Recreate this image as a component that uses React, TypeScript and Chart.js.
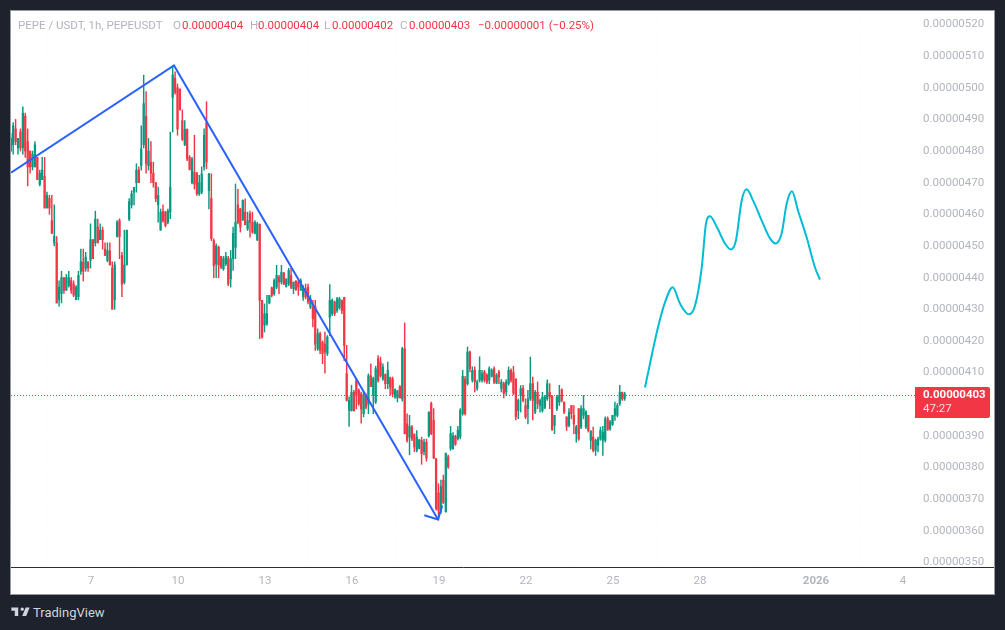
import React, { useEffect, useRef } from "react";
import { Chart, registerables } from "chart.js";

Chart.register(...registerables);

// Prices are expressed in units of 0.00000001. Each candle: [open, high, low, close]
const candlesDec4to8 = [
  [485,485,478,479],[480,485.5,480,484],[482,489,479,488],[487,490,482,483],[481,484,479,484],
  [486,487,480,481],[481,494,479,492],[491,492,478,480],[483,487,469,475],[480,480,473,475],
  [475,480,474,479],[475,483,475,482],[478,478,471,471],[469.5,474,469,473],[471,478,471,474],
  [472,478,462,462],[462,467,462,466],[465,466,460,462],[458,466,454,454],[451,463,450,453],
  [451,453,432,432],[433,439,431,437],[435,442,432,440],[440,440,435,436],[436,441,436,440],
  [437.5,442,437,440],[439,440,435,436],[438,439,434,434.5],[433,437.5,433,437],[434,442,433,440.7],
  [442,449,441,445],[445,449,439,442],[443,448,442,446.5],[445,445,442,443],[445.5,457,443,452],
  [452,452,446,446],[451,461,450,458.5],[456,458.5,451,451],[452,457,452,455],[455,456,449,452],
  [449,451,447,447],[445.5,451,445,448.5],[448.5,451,444,444],[443,445,430,430],[433,445,430,444],
];
const candlesDec8to11 = [
  [453,458,452.8,457.5],[458,458.6,446,453],[447,448,434,438],[438.5,455,438,444],[444,455,444,455],
  [458.5,465,458,464],[463,467.5,462,466.5],[467,468.5,463,468.5],[470,476,467,474],[474,475,470,470],
  [475.4,488,474,480.7],[482,504,481,495],[491,498.8,473,476],[475.4,484,474,480],[476.5,483,470,473],
  [473,476.5,468.6,470],[470,470,464,465],[463,468.6,457.5,466],[455,461.7,455,460.7],[461,463,457.5,458],
  [460.7,461,456,456.5],[457.5,461.7,457,461],[460.7,486,458.6,468.6],[497,507,486,504],[503,505,498,498.6],
  [500,501.2,485,487],[499.6,499.6,493,493],[489.6,493,483.3,483.7],[482,489.6,481.7,486.8],[486.8,487,477,477.5],
  [478,478.6,474,474.2],[470,478,469.6,477.5],[473.3,485,468,469.6],[472.8,473.3,466,466.5],[466.5,472.3,466,470],
  [467,475,466.5,472.8],[475,487,474,485],[489,495.6,474.4,476.5],[467.5,473,461.7,472.8],[465,472.8,451.7,452.3],
  [451.7,452.3,440,443.8],[444.3,450.7,440,450],[449.6,450,440,444],
];
const candlesDec11to15 = [
  [446.7,446.7,442.8,443.3],[442.8,446.7,442.3,446],[444.4,448,443.8,446.7],[446,446.7,437.5,438],[439.6,448.6,437,446],
  [446,456,442.3,454],[449.6,469.6,446,457.5],[463,467.9,457,457.5],[461.8,461.8,454.4,456],[458.3,464.6,458,464.4],
  [460.7,464.9,456.7,456.7],[455.4,460.7,454.9,458],[460.2,461,452.8,457.5],[457.5,460.7,454,454.4],[454,458,453.8,457.5],
  [452,457.5,451.7,457],[456.8,457,420.7,432.8],[432.8,432.8,420.9,421.2],[425,431.7,422.8,428.6],[425.4,434.4,424.9,428.6],
  [432,434.4,431.7,434.4],[436.8,437,433.9,434.4],[434.9,439.6,434.4,439.1],[437,443.9,436.5,440.7],[440.2,440.7,434.9,438.6],
  [438.6,443.9,438,441.7],[441.4,441.7,437.8,438],[437.2,439.6,437,439.6],[438,443,437.5,442.3],[440.7,443,436.5,437],
  [436.5,438.6,434.9,438.6],[438.9,439.1,436,436.2],[438.6,439.1,434.4,437],[436,439.6,436,439.1],[433.9,437.5,432.8,436.5],
  [436.5,438,433.3,433.9],[437,438,431.7,432.3],[430.7,434.4,430.2,433.3],[430.7,432.8,424.4,427],[431,432.8,417,419],
];
const candlesDec15to18 = [
  [417.5,423.8,417,422.3],[422.3,422.8,416,417],[419.6,420,412.8,416],[419,422.8,409.8,416.5],[416,421.7,415.4,421.2],
  [427.5,437.8,421.7,432.8],[428.6,433.3,428,432.8],[432.3,432.6,428,428.6],[429.6,433.8,429,433.3],[430.5,433.8,430,433.3],
  [432.8,433,428.6,429.6],[433.8,433.8,413.8,418.6],[409.6,418.6,401,401.2],[398,402.3,393,401.2],[398,406,397.8,403.8],
  [403.8,404.4,397.8,398],[407.5,408,398.5,402.8],[404.4,404.9,399.6,400.2],[403.3,403.8,394,398.5],[397,403.8,396,402.8],
  [402.8,403.3,398.5,399],[400,409.6,397,409],[409,412.8,405.6,405.6],[402.8,408.6,397,408],[400.7,412,400.2,411.2],
  [414.4,415.4,407,407.5],[413.3,414.9,408.6,409],[408,412.8,407.5,411.7],[409.4,409.6,404.9,406.5],[406.5,413.3,404.9,410.7],
  [408.4,408.6,402.8,405.4],[408,408.6,402.3,403.3],[402.3,404.9,401.8,404.6],[402,404.4,400.7,404.2],[405.6,405.9,402,402],
  [401.7,418,401,417.5],[417.5,425.7,390.6,390.7],[393.8,397,388,388.6],[389.6,396.5,384,393],[392.8,393.3,388.5,389],
  [390.5,390.7,385,386.5],[385.4,391.7,384.9,389.6],[386,388.8,385.9,388.8],
];
const candlesDec18to22 = [
  [388.6,389.6,381,384.4],[385,389,384,388],[388,389,382,383],[390,397.6,389.6,397.5],[400.2,400.7,390.4,390.7],
  [394.9,398.6,382.8,383],[382.8,382.8,366.5,367],[372,374.9,363.4,366.5],[366,376,365.5,374],[376,377.6,368.6,369],
  [366,384.6,365.9,384.4],[383.4,383.9,379.7,380.2],[386,393,385.4,390.7],[386,391,385.7,390],[389.9,390.2,387,387.4],
  [389.1,393,388.6,391.8],[389.7,398.6,389,398],[397,410.7,396.5,408.8],[408,408.8,396.5,397],[406.5,418.1,406,416.5],
  [416.5,416.8,410.2,411.2],[407.6,411.8,407,410.7],[410.7,411.8,403.9,407],[405,407.6,404.4,407],[407.6,415,407,410.7],
  [407.6,410.7,407,409.7],[410.2,410.7,407,407.6],[409.2,409.7,406.5,407],[407.6,411.8,406.5,411.2],[408.8,411.2,408.6,410.7],
  [411.2,411.8,406.5,407],[406.7,409.7,406.5,409.2],[410.2,410.7,406.5,408.6],[405,407.8,403.9,407],[406.5,407,402,403.4],
  [403.9,407.8,402.8,407],[406.5,411.8,406,410.7],[410.7,411.2,407,407.6],[410,412,403,403.5],[408,408,395,396],
];
const candlesDec22to25 = [
  [398,401.7,395.4,401.2],[402.8,405.9,397.5,404.9],[405,406,400.7,401.2],[399.6,401.7,395.4,396],[398.6,404.4,393.8,401.7],
  [401.7,414.9,401.2,406.5],[406.5,408.6,395,401.2],[397.5,404.4,397,403.8],[403.8,407,398.6,400.2],[399.6,401.7,397.5,401.2],
  [398,403.8,397.5,402.3],[399,402.8,398.6,402.3],[401.7,407.7,401.2,406.5],[403.8,406.5,398.6,402.3],[402.5,402.8,391.7,392],
  [393.3,396.5,390.7,396.5],[398.6,402.8,398,402.3],[400.7,406,399.6,402.8],[404.6,404.9,400.7,401.2],[400.7,400.7,397,397.5],
  [396,396,391.7,393],[393.3,398.6,392.8,397.5],[399.6,399.6,395.4,397],[396.5,399.6,390.7,393.8],[390.7,393.3,388,392.8],
  [398.6,398.6,388.6,389],[392.8,399.6,392.3,398.6],[396.5,402.8,395.4,398.6],[392.8,398,392.3,397.5],[396.5,396.5,391.2,391.7],
  [388.6,391.7,385.9,391.5],[389.6,392.8,384.9,385.4],[385.4,389,383.8,388.6],[387,389.6,384.9,389],[389,392.8,388.6,391.7],
  [388.6,393,383.8,391.2],[388.6,396,388,395.4],[395.4,396,391.7,392],[392.3,394.9,391.7,394.4],[393.6,396.5,393.3,396.5],
  [396.5,400.7,394.9,398.6],[396.5,400.2,396,399.6],[400.2,406,399.6,403.8],[403.8,403.8,401.2,401.7],[401.7,403.8,401.2,403.3],
];

// Trend drawings: [day of December (January continues from 32), price]
const trendLine = [[4.2414,473.2],[9.862,507.05],[18.966,363.6]];
const arrowHead = [[18.493,364.9],[18.966,363.6],[19.113,368.0]];
const projection = [
  [26.103,405.3],[26.552,424.3],[26.793,432.2],[27.059,437.0],[27.31,431.8],[27.62,428.4],[27.83,431.2],
  [28.06,443.2],[28.207,457.1],[28.345,459.4],[28.586,455.9],[28.862,450.8],[29.069,448.9],[29.241,451.8],
  [29.438,464.4],[29.61,467.9],[29.828,464.4],[30.172,457.1],[30.414,452.4],[30.61,450.8],[30.817,454.0],
  [30.99,463.4],[31.172,467.3],[31.379,461.2],[31.679,452.7],[31.966,443.2],[32.138,439.4],
];

const firstCandleDay = 4.15;
const hoursPerCandle = 2;
const xMin = 4.2414;
const xMax = 35.414;
const yMin = 348.56;
const yMax = 524.26;
const xTickDays = [7, 10, 13, 16, 19, 22, 25, 28, 32, 35];
const xTickNames = ["7", "10", "13", "16", "19", "22", "25", "28", "2026", "4"];
const yTickValues = [350,360,370,380,390,400,410,420,430,440,450,460,470,480,490,500,510,520];
const lastPrice = 402.76;
const countdown = "47:27";

const UP = "#089981";
const DOWN = "#f23645";
const AXIS_TEXT = "#b2b5be";
const FONT = "Roboto, 'Noto Sans', sans-serif";

const formatPrice = (v: number) => (v / 1e8).toFixed(8);

const candles = [
  ...candlesDec4to8, ...candlesDec8to11, ...candlesDec11to15,
  ...candlesDec15to18, ...candlesDec18to22, ...candlesDec22to25,
];
const dayOf = (i: number) => firstCandleDay + (i * hoursPerCandle) / 24;
const toXY = (rows: number[][]) => rows.map(([x, y]) => ({ x, y }));
const candleColors = candles.map(([o, , , c]) => (c >= o ? UP : DOWN));

const priceFlagPlugin = {
  id: "priceFlag",
  afterDraw(chart: any) {
    const { ctx, chartArea, scales, width } = chart;
    ctx.save();
    ctx.strokeStyle = "#2a2e39";
    ctx.lineWidth = 1;
    ctx.beginPath();
    ctx.moveTo(chartArea.right + 1, chartArea.bottom + 0.5);
    ctx.lineTo(width, chartArea.bottom + 0.5);
    ctx.stroke();
    const y = scales.y.getPixelForValue(lastPrice);
    const top = Math.floor(y) - 8;
    ctx.fillStyle = DOWN;
    ctx.beginPath();
    ctx.roundRect(chartArea.right, top, 75, 31, [0, 2, 2, 0]);
    ctx.fill();
    ctx.textBaseline = "middle";
    ctx.textAlign = "left";
    ctx.fillStyle = "#ffffff";
    ctx.font = `bold 11.5px ${FONT}`;
    ctx.fillText(formatPrice(lastPrice), chartArea.right + 8, top + 8.5);
    ctx.fillStyle = "#fcdfe2";
    ctx.font = `11.5px ${FONT}`;
    ctx.fillText(countdown, chartArea.right + 8, top + 22.5);
    ctx.restore();
  },
};

function Logo() {
  return (
    <svg width="21" height="16" viewBox="0 0 36 28" style={{ position: "absolute", left: 9.5, top: 604 }}>
      <path fill="#d1d4dc" d="M14 6H2v6h6v9h6V6Zm14 15h-7l6-15h7l-6 15Zm-7-9a3 3 0 1 0 0-6 3 3 0 0 0 0 6Z" />
    </svg>
  );
}

const legendGray = { color: AXIS_TEXT };
const legendRed = { color: DOWN };

export default function App() {
  const ref = useRef<HTMLCanvasElement | null>(null);
  useEffect(() => {
    if (!ref.current) return;
    const chart = new Chart(ref.current, {
      type: "bar",
      data: {
        datasets: [
          {
            type: "line",
            data: toXY(trendLine),
            borderColor: "#2962ff",
            borderWidth: 2,
            pointRadius: 0,
            order: 0,
          },
          {
            type: "line",
            data: toXY(arrowHead),
            borderColor: "#2962ff",
            borderWidth: 2,
            pointRadius: 0,
            order: 0,
          },
          {
            type: "line",
            data: toXY(projection),
            borderColor: "#00bcd4",
            borderWidth: 2,
            pointRadius: 0,
            cubicInterpolationMode: "monotone",
            order: 0,
          },
          {
            type: "line",
            data: [{ x: xMin, y: lastPrice }, { x: xMax, y: lastPrice }],
            borderColor: DOWN,
            borderWidth: 1,
            borderDash: [1, 2],
            pointRadius: 0,
            order: 1,
          },
          {
            type: "bar",
            stack: "ohlc",
            data: candles.map(([o, , , c], i) => ({ x: dayOf(i), y: [o, c] })),
            backgroundColor: candleColors,
            barThickness: 1.6,
            order: 2,
          },
          {
            type: "bar",
            stack: "ohlc",
            data: candles.map(([, h, l], i) => ({ x: dayOf(i), y: [l, h] })),
            backgroundColor: candleColors,
            barThickness: 0.8,
            order: 3,
          },
        ],
      } as any,
      options: {
        responsive: false,
        animation: false,
        parsing: undefined as any,
        layout: { padding: 0, autoPadding: false },
        plugins: { legend: { display: false }, tooltip: { enabled: false }, title: { display: false } },
        scales: {
          x: {
            type: "linear",
            offset: false,
            min: xMin,
            max: xMax,
            afterBuildTicks: (axis: any) => {
              axis.ticks = xTickDays.map((value) => ({ value }));
            },
            afterFit: (axis: any) => {
              axis.height = 27;
              axis.paddingLeft = 0;
              axis.paddingRight = 0;
            },
            ticks: {
              autoSkip: false,
              maxRotation: 0,
              padding: 7,
              color: AXIS_TEXT,
              font: (c: any) => ({
                family: FONT,
                size: 11.5,
                weight: c.tick && c.tick.value === 32 ? "bold" : "normal",
              }),
              callback: (v: any) => {
                const i = xTickDays.indexOf(v);
                return i >= 0 ? xTickNames[i] : "";
              },
            },
            grid: { color: "#fdfdfd", drawTicks: false },
            border: { display: true, color: "#2a2e39", width: 1 },
          },
          y: {
            type: "linear",
            position: "right",
            stacked: false,
            min: yMin,
            max: yMax,
            afterBuildTicks: (axis: any) => {
              axis.ticks = yTickValues.map((value) => ({ value }));
            },
            afterFit: (axis: any) => {
              axis.width = 79;
              axis.paddingTop = 0;
              axis.paddingBottom = 0;
            },
            ticks: {
              autoSkip: false,
              padding: 8,
              color: AXIS_TEXT,
              font: { family: FONT, size: 11.5 },
              callback: (v: any) => formatPrice(v),
            },
            grid: { color: "#fdfdfd", drawTicks: false },
            border: { display: false },
          },
        },
      } as any,
      plugins: [priceFlagPlugin],
    });
    return () => chart.destroy();
  }, []);

  const legendItem = (left: number, text: string, style: any) => (
    <span style={{ position: "absolute", left, top: 0, whiteSpace: "nowrap", ...style }}>{text}</span>
  );

  return (
    <div style={{ position: "fixed", left: 0, top: 0, width: 1005, height: 630, background: "#1e222d", overflow: "hidden" }}>
      <div style={{ position: "absolute", left: 10, top: 10, width: 985, height: 585, boxSizing: "border-box", background: "#ffffff", border: "1px solid #9598a1" }} />
      <canvas ref={ref} width={983} height={583} style={{ position: "absolute", left: 11, top: 11, width: 983, height: 583 }} />
      <div style={{ position: "absolute", left: 0, top: 18, width: 915, height: 14, font: `11.5px/14px ${FONT}` }}>
        {legendItem(18, "PEPE / USDT, 1h, PEPEUSDT", legendGray)}
        {legendItem(173, "O", legendGray)}
        {legendItem(182, "0.00000404", legendRed)}
        {legendItem(250, "H", legendGray)}
        {legendItem(258, "0.00000404", legendRed)}
        {legendItem(324, "L", legendGray)}
        {legendItem(332, "0.00000402", legendRed)}
        {legendItem(400, "C", legendGray)}
        {legendItem(409, "0.00000403", legendRed)}
        {legendItem(478, "−0.00000001 (−0.25%)", legendRed)}
      </div>
      <Logo />
      <div style={{ position: "absolute", left: 33, top: 604, font: `13px/17px ${FONT}`, color: "#d1d4dc" }}>TradingView</div>
    </div>
  );
}
